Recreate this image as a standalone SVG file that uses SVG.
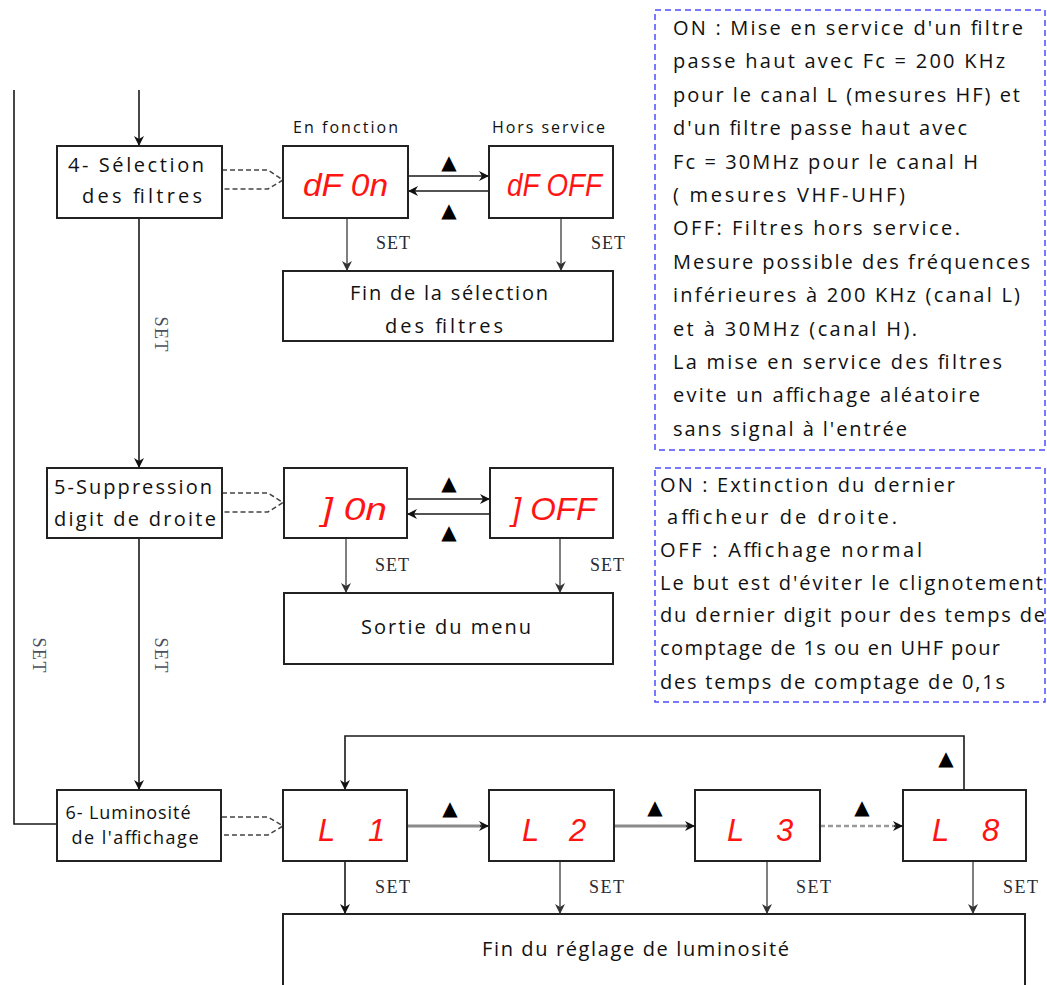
<svg xmlns="http://www.w3.org/2000/svg" width="1047" height="985" viewBox="0 0 1047 985">
<style>
.bg{fill:#fff}
.box{fill:#fff;stroke:#222;stroke-width:2}
.note{fill:#fff;stroke:#4d4dff;stroke-width:1.5;stroke-dasharray:6 4}
.t{font-family:"Open Sans","DejaVu Sans",sans-serif;fill:#111;font-weight:500}
.bt{font-size:20px}
.nt{font-size:20px}
.lab{font-size:16px}
.set{font-family:"Liberation Serif","Times New Roman",serif;font-size:18px;fill:#2a2a33}
.vset{font-family:"Liberation Serif","Times New Roman",serif;font-size:18px;fill:#4a5060}
.seg{font-family:"Liberation Sans",Arial,sans-serif;font-style:italic;font-size:31px;fill:#ff1414}
.tri{font-family:"DejaVu Sans",sans-serif;font-size:20px;fill:#000}
.ln{fill:none;stroke:#1a1a1a;stroke-width:1.6}
.lg{fill:none;stroke:#555;stroke-width:1.5}
.lgg{fill:none;stroke:#8a8a8a;stroke-width:3}
.dash{fill:none;stroke:#444;stroke-width:1.5;stroke-dasharray:5 3}
.dashg{fill:none;stroke:#9a9a9a;stroke-width:2.5;stroke-dasharray:5 3}
</style>
<defs>
<marker id="ah" viewBox="0 0 10 10" refX="10" refY="5" markerWidth="10" markerHeight="10" markerUnits="userSpaceOnUse" orient="auto">
<path d="M0,0 L10,5 L0,10 L3,5 z" fill="#111"/>
</marker>
<marker id="ahg" viewBox="0 0 10 10" refX="10" refY="5" markerWidth="10" markerHeight="10" markerUnits="userSpaceOnUse" orient="auto">
<path d="M0,0 L10,5 L0,10 L3,5 z" fill="#333"/>
</marker>
</defs>
<rect class="bg" x="0" y="0" width="1047" height="985"/>

<g id="connectors">
<path class="ln" d="M139,90 V146" marker-end="url(#ah)"/>
<path class="ln" d="M14,90 V824 H57"/>
<path class="ln" d="M139,218 V468" marker-end="url(#ah)"/>
<path class="ln" d="M139,538 V790" marker-end="url(#ah)"/>
<path class="dash" d="M222,170 H268 L283,180 L268,189 H222"/>
<path class="dash" d="M222,493 H268 L283,502.5 L268,512 H222"/>
<path class="dash" d="M222,817 H268 L283,826 L268,835 H222"/>
<path class="ln" d="M408,176 H489" marker-end="url(#ah)"/>
<path class="ln" d="M489,191 H408" marker-end="url(#ah)"/>
<path class="lg" d="M347,218 V271" marker-end="url(#ahg)"/>
<path class="lg" d="M561,218 V271" marker-end="url(#ahg)"/>
<path class="ln" d="M407,499 H490" marker-end="url(#ah)"/>
<path class="ln" d="M490,514 H407" marker-end="url(#ah)"/>
<path class="lg" d="M346,538 V593" marker-end="url(#ahg)"/>
<path class="lg" d="M560,538 V593" marker-end="url(#ahg)"/>
<path class="lgg" d="M407,826 H481"/>
<path class="ln" d="M480,826 H489" marker-end="url(#ah)"/>
<path class="lgg" d="M614,826 H687"/>
<path class="ln" d="M686,826 H695" marker-end="url(#ah)"/>
<path class="dashg" d="M820,826 H895"/>
<path class="ln" d="M894,826 H903" marker-end="url(#ah)"/>
<path class="ln" d="M964,790 V736 H345 V790" marker-end="url(#ah)"/>
<path class="ln" d="M345,861 V914" marker-end="url(#ah)"/>
<path class="lg" d="M560,861 V914" marker-end="url(#ahg)"/>
<path class="lg" d="M767,861 V914" marker-end="url(#ahg)"/>
<path class="lg" d="M973,861 V914" marker-end="url(#ahg)"/>
<text class="tri" x="449" y="169" text-anchor="middle">▲</text>
<text class="tri" x="449" y="217" text-anchor="middle">▲</text>
<text class="tri" x="449" y="490" text-anchor="middle">▲</text>
<text class="tri" x="449" y="539" text-anchor="middle">▲</text>
<text class="tri" x="450" y="815" text-anchor="middle">▲</text>
<text class="tri" x="655" y="814" text-anchor="middle">▲</text>
<text class="tri" x="862" y="814" text-anchor="middle">▲</text>
<text class="tri" x="946" y="765" text-anchor="middle">▲</text>
<text class="set" x="376" y="249" textLength="34">SET</text>
<text class="set" x="591" y="249" textLength="34">SET</text>
<text class="set" x="375" y="571" textLength="34">SET</text>
<text class="set" x="590" y="571" textLength="34">SET</text>
<text class="set" x="375" y="893" textLength="35">SET</text>
<text class="set" x="589" y="893" textLength="35">SET</text>
<text class="set" x="796" y="893" textLength="35">SET</text>
<text class="set" x="1003" y="893" textLength="35">SET</text>
<text class="vset" transform="translate(155,334) rotate(90)" text-anchor="middle" textLength="35">SET</text>
<text class="vset" transform="translate(155,655) rotate(90)" text-anchor="middle" textLength="35">SET</text>
<text class="vset" transform="translate(33,655) rotate(90)" text-anchor="middle" textLength="35">SET</text>
</g>

<g id="node-4">
<rect class="box" x="57" y="146" width="165" height="72"/>
<text class="t bt" x="136" y="172" text-anchor="middle" textLength="136">4- Sélection</text>
<text class="t bt" x="142" y="203" text-anchor="middle" textLength="120">des filtres</text>
</g>
<g id="node-dfon">
<text class="t lab" x="293" y="133" textLength="105">En fonction</text>
<rect class="box" x="283" y="146" width="125" height="72"/>
<text class="seg" x="303" y="196" textLength="85" lengthAdjust="spacingAndGlyphs">dF 0n</text>
</g>
<g id="node-dfoff">
<text class="t lab" x="492" y="133" textLength="113">Hors service</text>
<rect class="box" x="489" y="146" width="124" height="72"/>
<text class="seg" x="507" y="196" textLength="95" lengthAdjust="spacingAndGlyphs">dF OFF</text>
</g>
<g id="node-fin-filtres">
<rect class="box" x="283" y="271" width="330" height="70"/>
<text class="t bt" x="449" y="300" text-anchor="middle" textLength="198">Fin de la sélection</text>
<text class="t bt" x="444" y="333" text-anchor="middle" textLength="118">des filtres</text>
</g>
<g id="note-filtres">
<rect class="note" x="655" y="10" width="390" height="440"/>
<text class="t nt" x="673" y="35" textLength="350">ON : Mise en service d'un filtre</text>
<text class="t nt" x="673" y="68" textLength="332">passe haut avec Fc = 200 KHz</text>
<text class="t nt" x="673" y="102" textLength="347">pour le canal L (mesures HF) et</text>
<text class="t nt" x="673" y="135" textLength="294">d'un filtre passe haut avec</text>
<text class="t nt" x="673" y="169" textLength="305">Fc = 30MHz pour le canal H</text>
<text class="t nt" x="673" y="202" textLength="232">( mesures VHF-UHF)</text>
<text class="t nt" x="673" y="235" textLength="287">OFF: Filtres hors service.</text>
<text class="t nt" x="673" y="269" textLength="357">Mesure possible des fréquences</text>
<text class="t nt" x="673" y="302" textLength="347">inférieures à 200 KHz (canal L)</text>
<text class="t nt" x="673" y="336" textLength="244">et à 30MHz (canal H).</text>
<text class="t nt" x="673" y="369" textLength="329">La mise en service des filtres</text>
<text class="t nt" x="673" y="402" textLength="307">evite un affichage aléatoire</text>
<text class="t nt" x="673" y="436" textLength="234">sans signal à l'entrée</text>
</g>

<g id="node-5">
<rect class="box" x="47" y="468" width="175" height="70"/>
<text class="t bt" x="133" y="494" text-anchor="middle" textLength="158">5-Suppression</text>
<text class="t bt" x="135" y="526" text-anchor="middle" textLength="162">digit de droite</text>
</g>
<g id="node-jon">
<rect class="box" x="284" y="468" width="123" height="70"/>
<text class="seg" x="322" y="520" textLength="65" lengthAdjust="spacingAndGlyphs">] 0n</text>
</g>
<g id="node-joff">
<rect class="box" x="490" y="468" width="123" height="70"/>
<text class="seg" x="512" y="520" textLength="84" lengthAdjust="spacingAndGlyphs">] OFF</text>
</g>
<g id="node-sortie">
<rect class="box" x="284" y="593" width="329" height="71"/>
<text class="t bt" x="446" y="634" text-anchor="middle" textLength="170">Sortie du menu</text>
</g>
<g id="note-digit">
<rect class="note" x="655" y="468" width="390" height="234"/>
<text class="t nt" x="660" y="492" textLength="295">ON : Extinction du dernier</text>
<text class="t nt" x="667" y="524" textLength="230">afficheur de droite.</text>
<text class="t nt" x="660" y="557" textLength="262">OFF : Affichage normal</text>
<text class="t nt" x="660" y="590" textLength="383">Le but est d'éviter le clignotement</text>
<text class="t nt" x="660" y="622" textLength="385">du dernier digit pour des temps de</text>
<text class="t nt" x="660" y="655" textLength="340">comptage de 1s ou en UHF pour</text>
<text class="t nt" x="660" y="689" textLength="345">des temps de comptage de 0,1s</text>
</g>

<g id="node-6">
<rect class="box" x="57" y="790" width="164" height="71"/>
<text class="t" style="font-size:18px" x="128" y="819" text-anchor="middle" textLength="125">6- Luminosité</text>
<text class="t" style="font-size:18px" x="135" y="844" text-anchor="middle" textLength="127">de l'affichage</text>
</g>
<g id="node-l1">
<rect class="box" x="283" y="790" width="124" height="71"/>
<text class="seg"><tspan x="318" y="841">L</tspan> <tspan x="368" y="841">1</tspan></text>
</g>
<g id="node-l2">
<rect class="box" x="489" y="790" width="125" height="71"/>
<text class="seg"><tspan x="522" y="841">L</tspan> <tspan x="569" y="841">2</tspan></text>
</g>
<g id="node-l3">
<rect class="box" x="695" y="790" width="125" height="71"/>
<text class="seg"><tspan x="727" y="841">L</tspan> <tspan x="776" y="841">3</tspan></text>
</g>
<g id="node-l8">
<rect class="box" x="903" y="790" width="123" height="71"/>
<text class="seg"><tspan x="932" y="841">L</tspan> <tspan x="982" y="841">8</tspan></text>
</g>
<g id="node-fin-lum">
<rect class="box" x="283" y="914" width="742" height="90"/>
<text class="t bt" x="482" y="956" textLength="307">Fin du réglage de luminosité</text>
</g>
</svg>
